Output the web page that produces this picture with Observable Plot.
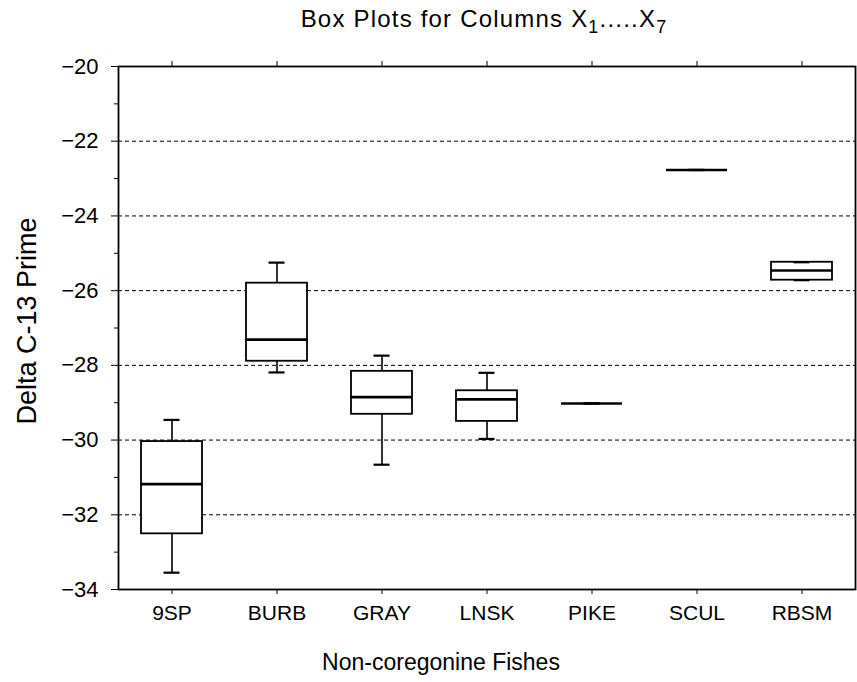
<!DOCTYPE html>
<html>
<head>
<meta charset="utf-8">
<script src="https://cdn.jsdelivr.net/npm/d3@7"></script>
<script src="https://cdn.jsdelivr.net/npm/@observablehq/plot@0.6"></script>
<style>
  html, body { margin: 0; padding: 0; background: #fff; }
  body { width: 857px; height: 682px; overflow: hidden; font-family: "Liberation Sans", Arial, Helvetica, sans-serif; color: #000; }
  #title { position: relative; height: 40px; }
  #title span { position: absolute; left: 484px; top: 5px; transform: translateX(-50%); white-space: nowrap; font-size: 24px; letter-spacing: 1.2px; }
  #title sub { font-size: 18px; vertical-align: -6px; }
</style>
</head>
<body>
<div id="title"><span>Box Plots for Columns X<sub>1</sub>.....X<sub>7</sub></span></div>
<div id="chart"></div>
<script>
const categories = ["9SP", "BURB", "GRAY", "LNSK", "PIKE", "SCUL", "RBSM"];
const lowWhisker  = [-33.55, -28.19, -30.66, -29.97, -29.02, -22.77, -25.72];
const q1Values    = [-32.51, -27.89, -29.31, -29.50, -29.02, -22.77, -25.72];
const medianValues= [-31.18, -27.31, -28.85, -28.91, -29.02, -22.77, -25.46];
const q3Values    = [-30.04, -25.80, -28.16, -28.68, -29.02, -22.77, -25.24];
const highWhisker = [-29.46, -25.25, -27.74, -28.20, -29.02, -22.77, -25.24];
const majorTicks = [-34, -32, -30, -28, -26, -24, -22, -20];
const minorTicks = [-33, -31, -29, -27, -25, -23, -21];
const gridValues = [-32, -30, -28, -26, -24, -22];

const data = categories.map((c, i) => ({
  cat: c, low: lowWhisker[i], q1: q1Values[i], median: medianValues[i], q3: q3Values[i], high: highWhisker[i]
}));

const chart = Plot.plot({
  width: 857,
  height: 642,
  marginLeft: 118,
  marginRight: 2,
  marginTop: 26,
  marginBottom: 93,
  style: { fontFamily: "'Liberation Sans', Arial, Helvetica, sans-serif", color: "#000", background: "#fff", overflow: "visible" },
  x: { type: "band", domain: categories, paddingInner: 0.42, paddingOuter: 0.21, label: null },
  y: { domain: [-34, -20], label: null },
  marks: [
    Plot.ruleY(gridValues, { stroke: "#000", strokeWidth: 1, strokeDasharray: "4,3" }),
    Plot.ruleX(data, { x: "cat", y1: "low", y2: "q1", stroke: "#000", strokeWidth: 1.6 }),
    Plot.ruleX(data, { x: "cat", y1: "q3", y2: "high", stroke: "#000", strokeWidth: 1.6 }),
    Plot.barY(data, { x: "cat", y1: "q1", y2: "q3", fill: "#fff", stroke: "#000", strokeWidth: 1.8 }),
    Plot.tickY(data, { x: "cat", y: "median", stroke: "#000", strokeWidth: 2.6 }),
    Plot.tickY(data, { x: "cat", y: "low", inset: 22.5, stroke: "#000", strokeWidth: 2.2 }),
    Plot.tickY(data, { x: "cat", y: "high", inset: 22.5, stroke: "#000", strokeWidth: 2.2 }),
    Plot.frame({ stroke: "#000", strokeWidth: 1.8 }),
    Plot.axisY(majorTicks, { tickSize: 7, tickPadding: 13, fontSize: 22, label: null, tickFormat: d3.format("d") }),
    Plot.axisY(minorTicks, { tickSize: 4, tickFormat: () => "", label: null }),
    Plot.axisX({ anchor: "bottom", tickSize: 5, tickPadding: 11, fontSize: 21, label: null }),
    Plot.axisX({ anchor: "top", tickSize: 6, tickFormat: () => "", label: null }),
    Plot.text(["Delta C-13 Prime"], { frameAnchor: "left", dx: -91, dy: -7, rotate: -90, fontSize: 27, textAnchor: "middle" }),
    Plot.text(["Non-coregonine Fishes"], { frameAnchor: "bottom", dx: -46, dy: 80, fontSize: 23, textAnchor: "middle" })
  ]
});
document.getElementById("chart").appendChild(chart);
</script>
</body>
</html>
